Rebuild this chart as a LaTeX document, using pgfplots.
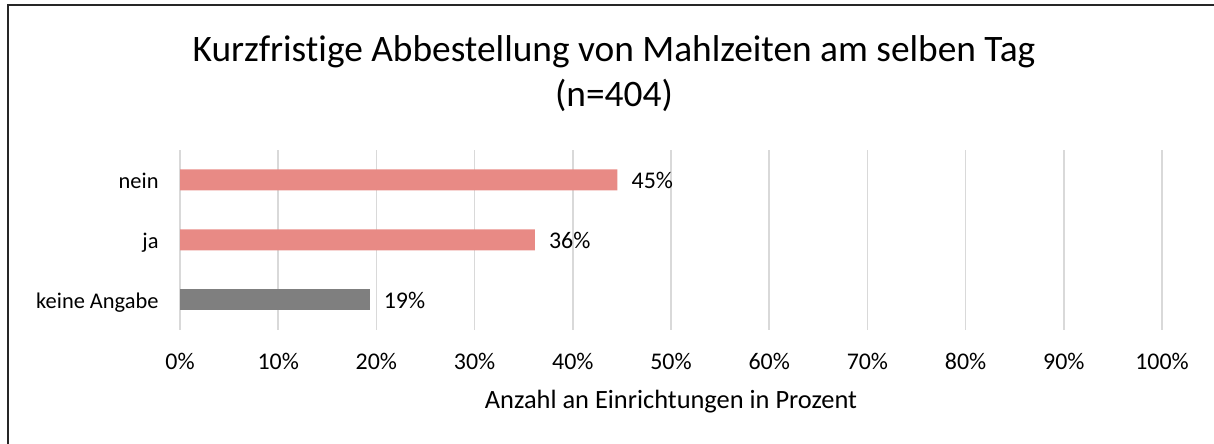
\documentclass[border=0pt]{standalone}
\usepackage{pgfplots}
\pgfplotsset{compat=1.18}
\usepackage{fontspec}
\setmainfont{Carlito}[Ligatures=NoCommon]
\definecolor{barpink}{RGB}{232,138,133}
\definecolor{bargray}{RGB}{127,127,127}
\definecolor{gridgray}{RGB}{217,217,217}
\newcommand{\lblfont}{\fontsize{24}{28}\selectfont}
\begin{document}
\begin{tikzpicture}[x=1bp,y=1bp]
  \useasboundingbox (0,0) rectangle (1214,444);
  \draw[line width=1.5bp, black!85] (8,0) -- (8,439) -- (1214,439);
  \node[anchor=base, font=\fontsize{37.5}{40}\selectfont] at (614,382) {Kurzfristige Abbestellung von Mahlzeiten am selben Tag};
  \node[anchor=base, font=\fontsize{37.5}{40}\selectfont] at (614,337) {(n=404)};
  \begin{axis}[
      at={(180bp,114bp)}, anchor=south west,
      scale only axis, width=982bp, height=180bp,
      xmin=0, xmax=100, ymin=-0.5, ymax=2.5,
      xbar, bar width=21bp, /pgf/bar shift=0pt,
      axis line style={draw=none},
      tick style={draw=none},
      xtick={0,10,...,100},
      ytick={0,1,2},
      yticklabels={keine Angabe, ja, nein},
      xmajorgrids, major grid style={gridgray, line width=1.5bp},
      /pgf/number format/assume math mode=true,
      xticklabel={\pgfmathprintnumber{\tick}\%},
      ticklabel style={font=\lblfont, inner sep=0pt},
      xticklabel style={anchor=base, yshift=-40bp},
      yticklabel style={font=\fontsize{22.5}{26}\selectfont, anchor=base east, xshift=-17bp, yshift=-9bp},
      xlabel={Anzahl an Einrichtungen in Prozent},
      xlabel style={font=\fontsize{26.5}{30}\selectfont, at={(axis description cs:0.5,0)}, anchor=center, yshift=-72bp},
      point meta=x,
      nodes near coords={\pgfmathprintnumber[fixed,precision=0]{\pgfplotspointmeta}\%},
      nodes near coords style={font=\lblfont, anchor=base west, inner sep=0pt, xshift=14bp, yshift=-9bp, text=black},
    ]
    \addplot[draw=none, fill=barpink] coordinates {(44.55,2) (36.14,1)};
    \addplot[draw=none, fill=bargray] coordinates {(19.31,0)};
  \end{axis}
\end{tikzpicture}
\end{document}
